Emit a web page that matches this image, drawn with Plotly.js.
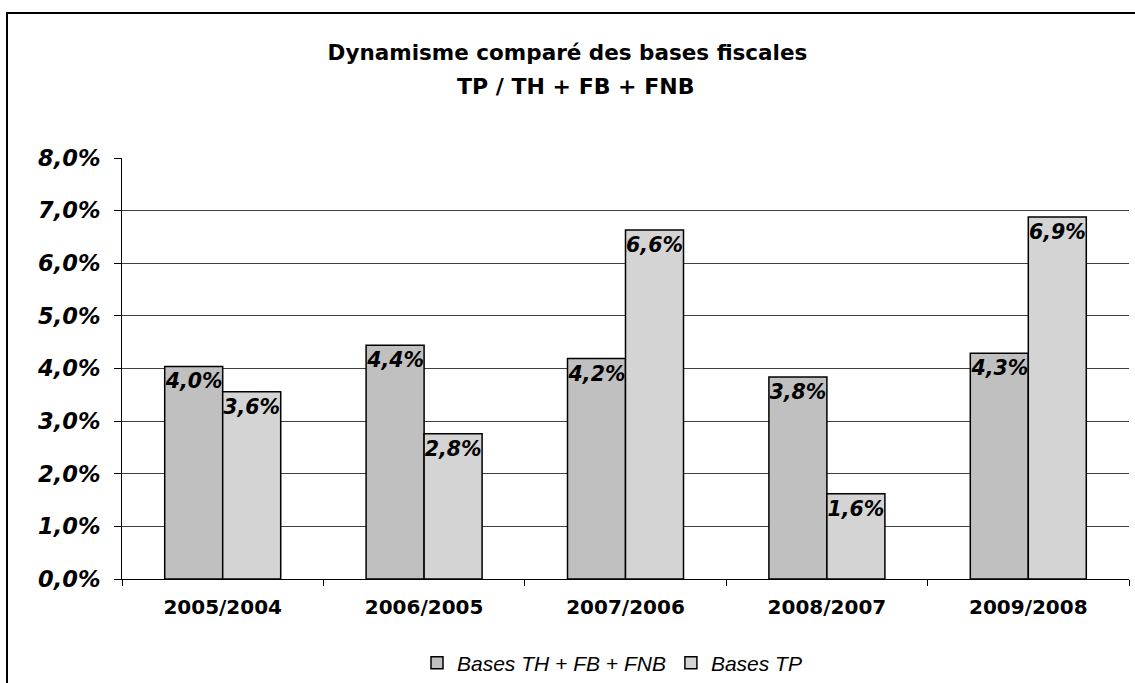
<!DOCTYPE html>
<html><head><meta charset="utf-8">
<script src="https://cdn.plot.ly/plotly-3.0.1.min.js"></script>
<style>html,body{margin:0;padding:0;background:#fff}#chart{width:1135px;height:683px}</style>
</head><body><div id="chart"></div>
<script>
const categories = ["2005/2004", "2006/2005", "2007/2006", "2008/2007", "2009/2008"];
const seriesNames = ["Bases TH + FB + FNB", "Bases TP"];
const basesTHFB = [0.0404, 0.0444, 0.0419, 0.0384, 0.0429];
const basesTP = [0.0356, 0.0276, 0.0663, 0.0162, 0.0688];
const titleLine1 = "Dynamisme comparé des bases fiscales";
const titleLine2 = "TP / TH + FB + FNB";

const labelFont = {family: "DejaVu Sans", size: 20.5, color: "#000", weight: "bold", style: "italic"};
function mk(name, vals, color) {
  return {
    type: "bar", name: name, x: categories, y: vals,
    marker: {color: color, line: {color: "#000", width: 1.5}},
    texttemplate: "%{y:.1%}", textposition: "inside", insidetextanchor: "end",
    constraintext: "none", textangle: 0, textfont: labelFont, cliponaxis: false,
    hoverinfo: "skip"
  };
}
const data = [mk(seriesNames[0], basesTHFB, "#c0c0c0"), mk(seriesNames[1], basesTP, "#d4d4d4")];

const layout = {
  width: 1135, height: 683,
  margin: {l: 122, r: 6, t: 158, b: 104, autoexpand: false},
  paper_bgcolor: "#fff", plot_bgcolor: "#fff",
  separators: ", ",
  barmode: "group", bargap: 0.424, bargroupgap: 0,
  showlegend: true,
  title: {text: titleLine1, x: 0.5, xref: "container", xanchor: "center",
          y: 1 - 52/683, yref: "container", yanchor: "middle",
          font: {family: "DejaVu Sans", size: 21.5, color: "#000", weight: "bold"}},
  annotations: [{text: titleLine2, xref: "paper", yref: "paper",
    x: (575-122)/1007, y: (579-86)/421, xanchor: "center", yanchor: "middle", showarrow: false,
    font: {family: "DejaVu Sans", size: 22, color: "#000", weight: "bold"}}],
  legend: {orientation: "h", x: (612-122)/1007, xanchor: "center", y: (579-663)/421, yanchor: "middle",
    font: {family: "Liberation Sans", size: 21, color: "#000", style: "italic"},
    itemwidth: 30, tracegroupgap: 0, bgcolor: "rgba(0,0,0,0)"},
  xaxis: {type: "category", tickson: "boundaries", ticks: "outside", ticklen: 6, tickcolor: "#000",
    showline: true, linecolor: "#000", linewidth: 1, showgrid: false, automargin: false,
    ticklabelstandoff: 10,
    tickfont: {family: "DejaVu Sans", size: 20, color: "#000", weight: "bold"}, fixedrange: true},
  yaxis: {range: [0, 0.08], dtick: 0.01, tickformat: ".1%", ticks: "outside", ticklen: 7, tickcolor: "#000",
    showline: true, linecolor: "#000", linewidth: 1, showgrid: true, gridcolor: "#404040", gridwidth: 1,
    zeroline: false, ticklabelstandoff: 9, automargin: false,
    tickfont: {family: "DejaVu Sans", size: 22.5, color: "#000", weight: "bold", style: "italic"}, fixedrange: true},
  shapes: [{type: "rect", xref: "paper", yref: "paper",
    x0: (7-122)/1007, x1: (1145-122)/1007, y0: (579-700)/421, y1: (579-13)/421,
    line: {color: "#000", width: 2}, fillcolor: "rgba(0,0,0,0)", layer: "below"}]
};
Plotly.newPlot("chart", data, layout, {staticPlot: true});
</script></body></html>
